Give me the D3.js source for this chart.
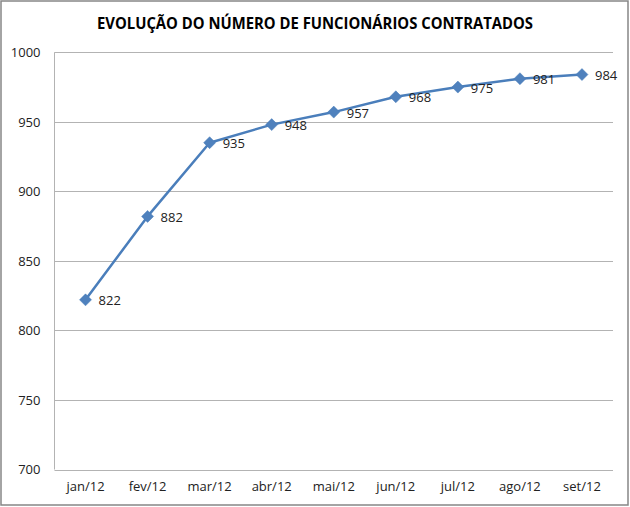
<!DOCTYPE html>
<html><head><meta charset="utf-8">
<script src="https://cdn.jsdelivr.net/npm/d3@7"></script>
<style>body{margin:0;background:#fff}svg{display:block}text{font-family:"Open Sans",sans-serif}</style>
</head><body><svg id="c" width="630" height="507"></svg>
<script>
const title = "EVOLUÇÃO DO NÚMERO DE FUNCIONÁRIOS CONTRATADOS";
const months = ["jan/12","fev/12","mar/12","abr/12","mai/12","jun/12","jul/12","ago/12","set/12"];
const values = [822,882,935,948,957,968,975,981,984];
const yTicks = [700,750,800,850,900,950,1000];

const svg = d3.select("#c");
const L = 54.5, R = 613, T = 52.3, B = 469.5;
svg.append("rect").attr("x",1).attr("y",1).attr("width",627).attr("height",504)
  .attr("fill","#fff").attr("stroke","#868686").attr("stroke-width",1.5);

const t = svg.append("text").attr("x",315).attr("y",28.5).attr("text-anchor","middle")
  .attr("font-weight","bold").attr("font-size",15.5).attr("fill","#000").text(title);
t.attr("textLength",436).attr("lengthAdjust","spacingAndGlyphs");

const x = d3.scaleBand().domain(months).range([L,R]);
const y = d3.scaleLinear().domain([700,1000]).range([B,T]);

svg.append("g").selectAll("line").data(yTicks).join("line")
  .attr("x1",L).attr("x2",R).attr("y1",d=>Math.round(y(d))+0.5).attr("y2",d=>Math.round(y(d))+0.5)
  .attr("stroke","#b3b3b3").attr("stroke-width",1);
svg.append("line").attr("x1",L).attr("x2",L).attr("y1",T).attr("y2",B).attr("stroke","#b3b3b3");

const yAxis = d3.axisLeft(y).tickValues(yTicks).tickFormat(d3.format("d")).tickSize(0).tickPadding(14);
const ga = svg.append("g").attr("transform",`translate(${L},0)`).call(yAxis);
ga.select(".domain").remove();
ga.selectAll("text").attr("font-family","Open Sans").attr("font-size",13).attr("fill","#222");

const xAxis = d3.axisBottom(x).tickSize(0).tickPadding(12);
const gx = svg.append("g").attr("transform",`translate(0,${B})`).call(xAxis);
gx.select(".domain").remove();
gx.selectAll("text").attr("font-family","Open Sans").attr("font-size",13).attr("fill","#222");

const cx = d => x(d) + x.bandwidth()/2;
const line = d3.line().x((d,i)=>cx(months[i])).y(d=>y(d));
svg.append("path").datum(values).attr("d",line).attr("fill","none")
  .attr("stroke","#4a7ebb").attr("stroke-width",2.5).attr("stroke-linejoin","round");

svg.append("g").selectAll("path").data(values).join("path")
  .attr("d","M0,-6L6,0L0,6L-6,0Z")
  .attr("transform",(d,i)=>`translate(${cx(months[i])},${y(d)})`)
  .attr("fill","#4f81bd").attr("stroke","#4a7ebb").attr("stroke-width",0.5);

svg.append("g").selectAll("text").data(values).join("text")
  .attr("x",(d,i)=>cx(months[i])+13).attr("y",d=>y(d)+5.5)
  .attr("font-size",13).attr("fill","#222").text(d=>d);
</script></body></html>
